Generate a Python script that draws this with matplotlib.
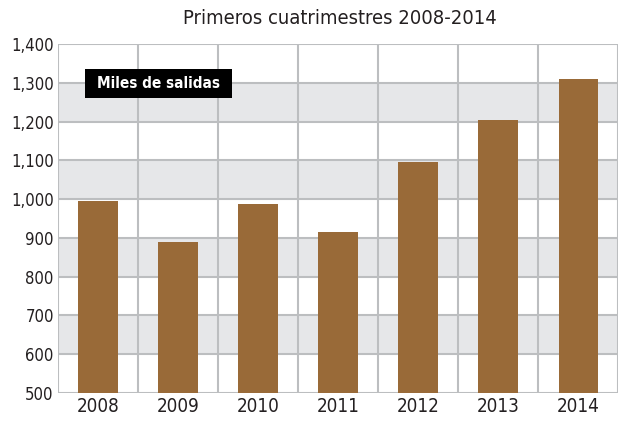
import matplotlib.pyplot as plt
from matplotlib.patches import Rectangle

years = ["2008", "2009", "2010", "2011", "2012", "2013", "2014"]
salidas = [995, 889, 987, 915, 1096, 1204, 1310]
y_ticks = [500, 600, 700, 800, 900, 1000, 1100, 1200, 1300, 1400]

plt.rcParams["font.family"] = "DejaVu Sans"
plt.rcParams["font.stretch"] = "condensed"

bar_color = "#996a38"
grid_color = "#bcbec0"
band_color = "#e6e7e9"

fig = plt.figure(figsize=(6.2, 4.21), dpi=100)
ax = fig.add_axes([0.0935, 0.0665, 0.9035, 0.829])

x = range(len(years))
# alternating horizontal bands
for lo in y_ticks[1:-1:2]:
    ax.axhspan(lo, lo + 100, color=band_color, zorder=0, lw=0)
for t in y_ticks:
    ax.axhline(t, color=grid_color, lw=1.5, zorder=1)
for i in range(len(years) + 1):
    ax.axvline(i - 0.5, color=grid_color, lw=1.5, zorder=1)

ax.bar(x, salidas, width=0.49, color=bar_color, zorder=2)

ax.set_xlim(-0.5, len(years) - 0.5)
ax.set_ylim(500, 1400)
ax.set_yticks(y_ticks)
ax.set_yticklabels([f"{v:,}" for v in y_ticks], fontsize=12, color="#231f20")
ax.set_xticks(list(x))
ax.set_xticklabels(years, fontsize=13.5, color="#231f20")
ax.tick_params(length=0, pad=3)
for s in ax.spines.values():
    s.set_visible(False)

# black label box
ax.add_patch(Rectangle((0.048, 0.845), 0.263, 0.083, transform=ax.transAxes,
                       facecolor="black", edgecolor="none", zorder=3))
ax.text(0.18, 0.887, "Miles de salidas", transform=ax.transAxes, fontsize=11,
        fontweight="bold", color="white", va="center", ha="center", zorder=4)

fig.text(0.548, 0.957, "Primeros cuatrimestres 2008-2014", fontsize=14.5,
         ha="center", va="center", color="#231f20")

fig.savefig("out.png", dpi=100)
